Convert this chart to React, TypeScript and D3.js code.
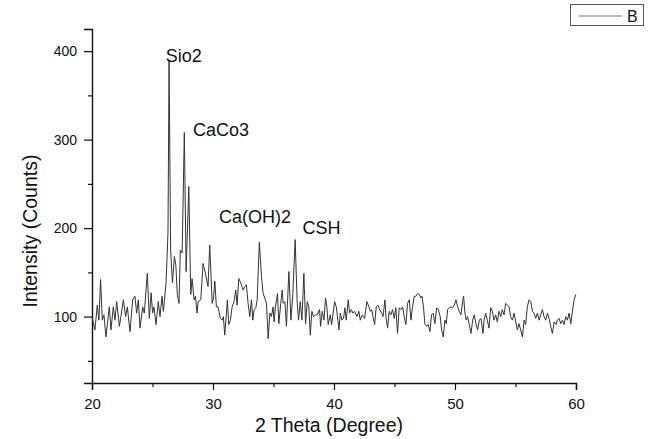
import React, { useEffect, useRef } from 'react';
import * as d3 from 'd3';

// 2 Theta (degree) and intensity (counts)
const twoTheta = [
  20.0, 20.24, 20.44, 20.57, 20.71, 20.85, 20.99, 21.15, 21.43, 21.57, 21.76, 21.9, 22.04, 22.26, 22.39, 22.59,
  22.78, 22.92, 23.14, 23.36, 23.55, 23.69, 23.83, 23.97, 24.19, 24.32, 24.57, 24.74, 24.88, 25.01, 25.12, 25.29,
  25.48, 25.62, 25.79, 25.9, 26.12, 26.28, 26.37, 26.5, 26.65, 26.81, 26.93, 27.05, 27.19, 27.3, 27.45, 27.63,
  27.78, 28.0, 28.16, 28.27, 28.44, 28.55, 28.68, 28.77, 28.99, 29.18, 29.37, 29.59, 29.73, 29.93, 30.04, 30.15,
  30.28, 30.42, 30.61, 30.75, 30.86, 30.97, 31.11, 31.19, 31.3, 31.44, 31.58, 31.74, 31.88, 31.99, 32.13, 32.3,
  32.49, 32.63, 32.76, 32.9, 33.04, 33.18, 33.29, 33.4, 33.54, 33.65, 33.83, 34.01, 34.14, 34.28, 34.42, 34.56,
  34.7, 34.83, 34.97, 35.05, 35.16, 35.33, 35.44, 35.6, 35.72, 35.8, 35.94, 36.07, 36.27, 36.44, 36.6, 36.79,
  36.96, 37.07, 37.21, 37.35, 37.51, 37.65, 37.79, 37.92, 38.04, 38.17, 38.31, 38.48, 38.61, 38.81, 38.89, 39.03,
  39.17, 39.3, 39.41, 39.52, 39.69, 39.8, 39.91, 40.05, 40.19, 40.32, 40.41, 40.52, 40.65, 40.79, 40.9, 41.01,
  41.18, 41.29, 41.43, 41.56, 41.7, 41.9, 42.06, 42.17, 42.34, 42.53, 42.72, 42.89, 43.0, 43.11, 43.22, 43.36,
  43.49, 43.63, 43.77, 43.94, 44.05, 44.21, 44.29, 44.43, 44.56, 44.7, 44.84, 44.98, 45.11, 45.25, 45.39, 45.53,
  45.67, 45.8, 45.94, 46.08, 46.22, 46.36, 46.49, 46.63, 46.77, 46.91, 47.04, 47.18, 47.27, 47.4, 47.51, 47.65,
  47.79, 47.93, 48.06, 48.2, 48.34, 48.48, 48.62, 48.78, 48.89, 49.03, 49.17, 49.28, 49.39, 49.53, 49.66, 49.8,
  49.94, 50.08, 50.22, 50.35, 50.49, 50.63, 50.71, 50.82, 50.93, 51.04, 51.18, 51.32, 51.46, 51.59, 51.73, 51.87,
  52.01, 52.15, 52.31, 52.4, 52.54, 52.67, 52.81, 52.95, 53.09, 53.22, 53.36, 53.5, 53.64, 53.78, 53.91, 54.05,
  54.19, 54.33, 54.47, 54.6, 54.74, 54.88, 55.02, 55.15, 55.29, 55.43, 55.57, 55.71, 55.84, 55.98, 56.12, 56.26,
  56.4, 56.53, 56.67, 56.81, 56.95, 57.08, 57.22, 57.36, 57.5, 57.64, 57.77, 57.91, 58.05, 58.19, 58.36, 58.46,
  58.6, 58.74, 58.88, 59.01, 59.15, 59.29, 59.43, 59.57, 59.7, 59.84, 59.98,
];
const counts = [
  100, 85, 113, 96, 142, 96, 102, 77, 111, 85, 111, 96, 117, 89, 100, 119,
  100, 111, 83, 119, 123, 104, 119, 87, 111, 104, 149, 98, 127, 104, 111, 91,
  117, 100, 123, 106, 138, 195, 390, 175, 138, 168, 158, 125, 115, 175, 172, 308,
  151, 247, 125, 143, 119, 123, 104, 117, 119, 160, 149, 134, 181, 115, 121, 140,
  111, 111, 98, 96, 100, 79, 104, 119, 91, 96, 111, 117, 130, 113, 143, 138,
  130, 134, 136, 115, 100, 119, 96, 108, 110, 119, 184, 145, 126, 121, 115, 75,
  104, 100, 111, 94, 111, 126, 92, 115, 130, 115, 117, 89, 151, 96, 126, 187,
  115, 96, 117, 96, 149, 92, 117, 111, 79, 106, 100, 102, 102, 108, 89, 106,
  96, 121, 111, 91, 102, 91, 102, 117, 111, 96, 85, 104, 96, 98, 110, 96,
  119, 104, 108, 104, 106, 100, 106, 96, 102, 98, 117, 111, 106, 108, 100, 91,
  111, 113, 108, 104, 100, 119, 100, 87, 106, 102, 108, 98, 110, 81, 110, 108,
  111, 100, 91, 115, 119, 96, 111, 123, 123, 126, 125, 121, 123, 110, 92, 89,
  91, 83, 102, 104, 92, 110, 108, 100, 85, 77, 96, 92, 108, 110, 111, 110,
  113, 119, 111, 106, 102, 117, 123, 104, 96, 100, 91, 81, 96, 102, 92, 85,
  96, 98, 81, 96, 104, 96, 87, 110, 106, 96, 102, 94, 106, 100, 108, 102,
  115, 113, 111, 100, 96, 104, 94, 85, 92, 85, 77, 96, 91, 111, 119, 117,
  106, 104, 98, 104, 96, 102, 108, 100, 96, 104, 98, 89, 81, 94, 91, 96,
  98, 92, 96, 91, 100, 96, 104, 92, 106, 119, 125,
];

const xMajor = [20, 30, 40, 50, 60];
const xMinor = [25, 35, 45, 55];
const yMajor = [100, 200, 300, 400];
const yMinor = [50, 150, 250, 350];

// phase labels: left edge (2 Theta) and baseline (counts)
const peakLabels = ['Sio2', 'CaCo3', 'Ca(OH)2', 'CSH'];
const peakLabelTheta = [26.1, 28.35, 30.5, 37.4];
const peakLabelCounts = [388, 304, 206, 193];

const seriesName = 'B';

const font = "Arial, 'Liberation Sans', sans-serif";

const App = () => {
  const ref = useRef(null);

  useEffect(() => {
    const svg = d3.select(ref.current);
    svg.selectAll('*').remove();

    const x = d3.scaleLinear().domain([20, 60]).range([92, 576]);
    const y = d3.scaleLinear().domain([25, 425]).range([383, 29]);

    // y axis
    const gy = svg.append('g').attr('transform', 'translate(92,0)');
    gy.call(d3.axisLeft(y).tickValues(yMajor).tickSize(8).tickPadding(7));
    gy.append('g').call(d3.axisLeft(y).tickValues(yMinor).tickSize(4).tickFormat(() => ''));
    gy.selectAll('path.domain').attr('stroke', '#111').attr('stroke-width', 1.4);
    gy.selectAll('.tick line').attr('stroke', '#111').attr('stroke-width', 1.2);
    gy.selectAll('text').attr('font-family', font).attr('font-size', 14).attr('fill', '#111');
    gy.selectAll('g g path.domain').remove();

    // x axis
    const gx = svg.append('g').attr('transform', 'translate(0,383)');
    gx.call(d3.axisBottom(x).tickValues(xMajor).tickSize(7).tickPadding(8));
    gx.append('g').call(d3.axisBottom(x).tickValues(xMinor).tickSize(4).tickFormat(() => ''));
    gx.selectAll('path.domain').attr('stroke', '#111').attr('stroke-width', 1.4);
    gx.selectAll('.tick line').attr('stroke', '#111').attr('stroke-width', 1.2);
    gx.selectAll('text').attr('font-family', font).attr('font-size', 15).attr('fill', '#111');
    gx.selectAll('g g path.domain').remove();

    // axis titles
    svg.append('text')
      .attr('x', 329)
      .attr('y', 432)
      .attr('text-anchor', 'middle')
      .attr('font-family', font)
      .attr('font-size', 19.5)
      .attr('fill', '#111')
      .text('2 Theta (Degree)');

    svg.append('text')
      .attr('transform', 'translate(37,231) rotate(-90)')
      .attr('text-anchor', 'middle')
      .attr('font-family', font)
      .attr('font-size', 19.5)
      .attr('fill', '#111')
      .text('Intensity (Counts)');

    // pattern
    const pts = twoTheta.map((t, i) => [t, counts[i]]);
    const line = d3.line().x(d => x(d[0])).y(d => y(d[1]));
    svg.append('path')
      .datum(pts)
      .attr('d', line)
      .attr('fill', 'none')
      .attr('stroke', '#333')
      .attr('stroke-width', 1)
      .attr('stroke-linejoin', 'round');

    // peak labels
    svg.selectAll('.peak')
      .data(peakLabels)
      .enter().append('text')
      .attr('class', 'peak')
      .attr('x', (d, i) => x(peakLabelTheta[i]))
      .attr('y', (d, i) => y(peakLabelCounts[i]))
      .attr('font-family', font)
      .attr('font-size', 18)
      .attr('fill', '#111')
      .text(d => d);

    // legend
    const lg = svg.append('g');
    lg.append('rect')
      .attr('x', 570.5).attr('y', 4.5).attr('width', 73).attr('height', 21)
      .attr('fill', 'white').attr('stroke', '#555').attr('stroke-width', 1);
    lg.append('line')
      .attr('x1', 579).attr('x2', 622).attr('y1', 16).attr('y2', 16)
      .attr('stroke', '#777').attr('stroke-width', 1);
    lg.append('text')
      .attr('x', 627).attr('y', 22)
      .attr('font-family', font).attr('font-size', 16).attr('fill', '#111')
      .text(seriesName);
  }, []);

  return (
    <svg ref={ref} width={649} height={439} style={{ position: 'absolute', left: 0, top: 0 }} />
  );
};

export default App;
